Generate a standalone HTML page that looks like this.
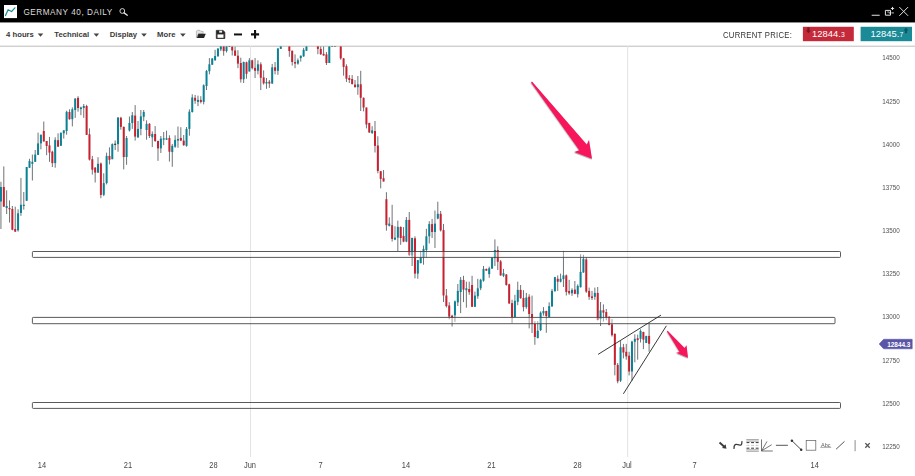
<!DOCTYPE html>
<html lang="en"><head><meta charset="utf-8"><title>Germany 40, Daily</title>
<style>
html,body{margin:0;padding:0;background:#fff;}
body{width:915px;height:476px;overflow:hidden;position:relative;font-family:"Liberation Sans",Arial,sans-serif;}
.hdr{position:absolute;left:0;top:0;width:915px;height:22px;}
.title{position:absolute;left:23.4px;top:7px;font-size:8.2px;line-height:12px;color:#dedede;letter-spacing:0.54px;white-space:nowrap;}
.tb{position:absolute;left:0;top:22.4px;width:915px;height:23.6px;}
.mi{position:absolute;top:7.8px;font-size:7.7px;line-height:10px;font-weight:bold;color:#3a3a3a;white-space:nowrap;}
.cp{position:absolute;left:722.7px;top:8.1px;font-size:8.5px;line-height:10px;color:#333;letter-spacing:0.3px;transform:scaleX(0.905);transform-origin:0 0;white-space:nowrap;}
.pb{position:absolute;top:4.4px;height:14.4px;color:#fff;font-size:9.4px;line-height:14.6px;white-space:nowrap;letter-spacing:0.05px;}
.pb small{font-size:6.8px;}
.sell{left:802.9px;width:50.9px;}
.buy{left:860.6px;width:51.4px;}
.pb span{position:absolute;top:0;}
svg.ov{position:absolute;left:0;top:0;}
svg.chart{position:absolute;left:0;top:46px;}
</style></head><body>
<svg class="ov" width="915" height="47" viewBox="0 0 915 47">
<rect x="0" y="0" width="915" height="22.45" fill="#000"/>
<rect x="0" y="45.7" width="915" height="1" fill="#bcbcbc"/>
<rect x="802.9" y="26.8" width="50.9" height="14.4" fill="#c42a3a"/><rect x="860.6" y="26.8" width="51.4" height="14.4" fill="#1a8a96"/>
<rect x="4" y="5" width="13" height="13.1" fill="#fff"/>
<g fill="#444"><path d="M37.7 33.6H43.3L40.5 36.7Z"/><path d="M93.6 33.6H99.2L96.4 36.7Z"/><path d="M141.2 33.6H146.8L144.0 36.7Z"/><path d="M180.1 33.6H185.7L182.9 36.7Z"/></g>
<!-- logo zigzag -->
<path d="M5.5 15.6L8.1 9.7L11.5 11.6L14.9 7.8" fill="none" stroke="#178a96" stroke-width="1.2" stroke-linejoin="round" stroke-linecap="round"/>
<!-- magnifier -->
<circle cx="122.3" cy="11" r="2.4" fill="none" stroke="#e8e8e8" stroke-width="0.9"/><path d="M124.1 12.9L127.3 15.2" stroke="#e8e8e8" stroke-width="1.3" stroke-linecap="round"/>
<!-- folder -->
<path d="M196.4 37.8V31L197.4 30.3H200L200.9 31.4H203.1V33.8H198.4L196.4 37.8Z" fill="#e4e4e4" stroke="#9a9a9a" stroke-width="0.6" stroke-linejoin="round"/>
<path d="M198.4 33.7H205.8L204 37.9H196.9Z" fill="#262626"/>
<!-- save -->
<path d="M216.3 30.4H222.9L224.8 32.1V38.5H216.3Z" fill="#262626" stroke="#262626" stroke-width="0.8" stroke-linejoin="round"/><rect x="217.5" y="34.4" width="6" height="3.4" fill="#fff"/><rect x="219.2" y="30.7" width="2.9" height="1.9" fill="#f4f4f4"/><rect x="217.4" y="30.7" width="1" height="2.4" fill="#fff" fill-opacity="0.0"/>
<!-- minus plus -->
<path d="M234 34.45H242" stroke="#111" stroke-width="2"/>
<path d="M251 34.35H259.1M255.05 30.1V38.5" stroke="#111" stroke-width="2.1"/>
<!-- window controls -->
<path d="M871.7 15.25H879.7" stroke="#e4e4e4" stroke-width="1"/>
<path d="M885.4 10.4H890.5V15.2H885.4Z" fill="none" stroke="#e4e4e4" stroke-width="1"/><path d="M887.2 12H889.3V13.7" fill="none" stroke="#d0d0d0" stroke-width="0.8"/><path d="M890.9 8.45H894.1M892.5 6.9V10" stroke="#eee" stroke-width="0.95"/><path d="M891.4 12.9H893.9" stroke="#ddd" stroke-width="0.9"/>
<path d="M899.35 7.1L908.05 15.8M908.05 7.1L899.35 15.8" stroke="#e2e2e2" stroke-width="1"/>
<!-- price arrows -->
<path d="M807.3 27.6H809.5V30.4H810.9L808.4 33.2L805.9 30.4H807.3Z" fill="#7d1522"/>
<path d="M904.9 33.2H907.1V30.4H908.5L906 27.6L903.5 30.4H904.9Z" fill="#0d5a63"/>
</svg>
<div class="hdr"><div class="title">GERMANY 40, DAILY</div></div>
<div class="tb">
<div class="mi" style="left:6.1px">4 hours</div>
<div class="mi" style="left:54.3px">Technical</div>
<div class="mi" style="left:109.8px">Display</div>
<div class="mi" style="left:157.1px">More</div>
<div class="cp">CURRENT PRICE:</div>
<div class="pb sell"><span style="left:9.1px">12844.<small>3</small></span></div>
<div class="pb buy"><span style="left:9.8px">12845.<small>7</small></span></div>
</div>
<svg class="chart" width="915" height="430" viewBox="0 46 915 430">
<defs><clipPath id="cp"><rect x="0" y="46.6" width="915" height="430"/></clipPath>
<filter id="sh" x="-20%" y="-20%" width="150%" height="150%"><feDropShadow dx="-0.3" dy="0.8" stdDeviation="0.7" flood-color="#023" flood-opacity="0.45"/></filter></defs>
<g stroke="#e2e2e2" stroke-width="1"><line x1="250.55" y1="46" x2="250.55" y2="457"/><line x1="627.7" y1="46" x2="627.7" y2="457"/></g>
<g clip-path="url(#cp)">
<g stroke="#6e7377" stroke-width="1"><line x1="0.95" y1="181.8" x2="0.95" y2="229.0"/><line x1="3.81" y1="166.4" x2="3.81" y2="206.7"/><line x1="6.66" y1="190.3" x2="6.66" y2="214.0"/><line x1="9.52" y1="200.4" x2="9.52" y2="222.5"/><line x1="12.37" y1="206.0" x2="12.37" y2="230.3"/><line x1="15.23" y1="206.7" x2="15.23" y2="232.0"/><line x1="18.08" y1="209.3" x2="18.08" y2="231.6"/><line x1="20.94" y1="177.9" x2="20.94" y2="215.9"/><line x1="23.79" y1="192.0" x2="23.79" y2="209.7"/><line x1="26.65" y1="167.0" x2="26.65" y2="200.8"/><line x1="29.50" y1="158.8" x2="29.50" y2="168.0"/><line x1="32.36" y1="154.6" x2="32.36" y2="180.5"/><line x1="35.21" y1="150.0" x2="35.21" y2="162.0"/><line x1="38.07" y1="132.6" x2="38.07" y2="155.0"/><line x1="40.92" y1="134.7" x2="40.92" y2="149.3"/><line x1="43.78" y1="121.5" x2="43.78" y2="141.5"/><line x1="46.63" y1="141.0" x2="46.63" y2="155.2"/><line x1="49.49" y1="136.9" x2="49.49" y2="161.8"/><line x1="52.35" y1="150.7" x2="52.35" y2="167.0"/><line x1="55.20" y1="137.3" x2="55.20" y2="167.7"/><line x1="58.06" y1="133.3" x2="58.06" y2="146.7"/><line x1="60.91" y1="132.7" x2="60.91" y2="145.8"/><line x1="63.77" y1="130.3" x2="63.77" y2="138.6"/><line x1="66.62" y1="110.7" x2="66.62" y2="134.7"/><line x1="69.48" y1="109.3" x2="69.48" y2="119.8"/><line x1="72.33" y1="107.4" x2="72.33" y2="126.4"/><line x1="75.19" y1="98.2" x2="75.19" y2="117.9"/><line x1="78.04" y1="96.2" x2="78.04" y2="111.7"/><line x1="80.90" y1="106.7" x2="80.90" y2="115.2"/><line x1="83.75" y1="104.0" x2="83.75" y2="117.9"/><line x1="86.61" y1="104.8" x2="86.61" y2="134.9"/><line x1="89.46" y1="128.4" x2="89.46" y2="160.5"/><line x1="92.32" y1="155.9" x2="92.32" y2="174.6"/><line x1="95.17" y1="167.0" x2="95.17" y2="182.5"/><line x1="98.03" y1="157.2" x2="98.03" y2="173.0"/><line x1="100.89" y1="162.5" x2="100.89" y2="198.2"/><line x1="103.74" y1="173.3" x2="103.74" y2="196.2"/><line x1="106.60" y1="152.6" x2="106.60" y2="184.4"/><line x1="109.45" y1="147.4" x2="109.45" y2="164.4"/><line x1="112.31" y1="143.4" x2="112.31" y2="159.2"/><line x1="115.16" y1="140.4" x2="115.16" y2="150.0"/><line x1="118.02" y1="117.0" x2="118.02" y2="151.7"/><line x1="120.87" y1="116.8" x2="120.87" y2="129.7"/><line x1="123.73" y1="126.5" x2="123.73" y2="169.4"/><line x1="126.58" y1="136.0" x2="126.58" y2="164.8"/><line x1="129.44" y1="116.5" x2="129.44" y2="131.5"/><line x1="132.29" y1="112.0" x2="132.29" y2="128.9"/><line x1="135.15" y1="105.1" x2="135.15" y2="140.6"/><line x1="138.00" y1="121.0" x2="138.00" y2="138.0"/><line x1="140.86" y1="110.0" x2="140.86" y2="135.3"/><line x1="143.72" y1="110.0" x2="143.72" y2="121.2"/><line x1="146.57" y1="120.3" x2="146.57" y2="139.7"/><line x1="149.43" y1="123.1" x2="149.43" y2="138.0"/><line x1="152.28" y1="131.4" x2="152.28" y2="147.1"/><line x1="155.14" y1="126.1" x2="155.14" y2="141.9"/><line x1="157.99" y1="140.6" x2="157.99" y2="160.9"/><line x1="160.85" y1="136.0" x2="160.85" y2="153.0"/><line x1="163.70" y1="132.0" x2="163.70" y2="145.2"/><line x1="166.56" y1="130.7" x2="166.56" y2="139.9"/><line x1="169.41" y1="135.3" x2="169.41" y2="161.6"/><line x1="172.27" y1="143.9" x2="172.27" y2="166.8"/><line x1="175.12" y1="135.3" x2="175.12" y2="147.8"/><line x1="177.98" y1="126.5" x2="177.98" y2="147.8"/><line x1="180.83" y1="127.2" x2="180.83" y2="141.2"/><line x1="183.69" y1="135.0" x2="183.69" y2="145.8"/><line x1="186.54" y1="127.0" x2="186.54" y2="146.7"/><line x1="189.40" y1="109.3" x2="189.40" y2="135.7"/><line x1="192.26" y1="94.3" x2="192.26" y2="112.6"/><line x1="195.11" y1="94.9" x2="195.11" y2="103.8"/><line x1="197.97" y1="95.6" x2="197.97" y2="106.1"/><line x1="200.82" y1="96.2" x2="200.82" y2="103.4"/><line x1="203.68" y1="84.3" x2="203.68" y2="104.4"/><line x1="206.53" y1="69.9" x2="206.53" y2="90.0"/><line x1="209.39" y1="58.1" x2="209.39" y2="74.4"/><line x1="212.24" y1="58.1" x2="212.24" y2="65.0"/><line x1="215.10" y1="49.8" x2="215.10" y2="60.7"/><line x1="217.95" y1="48.5" x2="217.95" y2="56.4"/><line x1="220.81" y1="44.0" x2="220.81" y2="51.1"/><line x1="223.66" y1="44.0" x2="223.66" y2="55.7"/><line x1="226.52" y1="44.0" x2="226.52" y2="52.5"/><line x1="229.37" y1="44.0" x2="229.37" y2="46.9"/><line x1="232.23" y1="44.0" x2="232.23" y2="55.5"/><line x1="235.08" y1="46.5" x2="235.08" y2="56.0"/><line x1="237.94" y1="50.2" x2="237.94" y2="68.2"/><line x1="240.80" y1="57.7" x2="240.80" y2="82.6"/><line x1="243.65" y1="61.6" x2="243.65" y2="83.0"/><line x1="246.51" y1="61.6" x2="246.51" y2="78.7"/><line x1="249.36" y1="58.1" x2="249.36" y2="71.5"/><line x1="252.22" y1="59.7" x2="252.22" y2="69.5"/><line x1="255.07" y1="58.1" x2="255.07" y2="78.0"/><line x1="257.93" y1="60.3" x2="257.93" y2="74.4"/><line x1="260.78" y1="62.3" x2="260.78" y2="90.1"/><line x1="263.64" y1="70.4" x2="263.64" y2="84.6"/><line x1="266.49" y1="78.0" x2="266.49" y2="88.8"/><line x1="269.35" y1="80.0" x2="269.35" y2="87.9"/><line x1="272.20" y1="63.9" x2="272.20" y2="83.9"/><line x1="275.06" y1="62.0" x2="275.06" y2="74.4"/><line x1="277.91" y1="48.1" x2="277.91" y2="74.8"/><line x1="280.77" y1="40.0" x2="280.77" y2="48.9"/><line x1="289.34" y1="40.0" x2="289.34" y2="56.8"/><line x1="292.19" y1="50.5" x2="292.19" y2="65.6"/><line x1="295.05" y1="54.4" x2="295.05" y2="68.2"/><line x1="297.90" y1="58.4" x2="297.90" y2="64.7"/><line x1="300.76" y1="55.5" x2="300.76" y2="61.6"/><line x1="303.61" y1="47.9" x2="303.61" y2="56.8"/><line x1="306.47" y1="40.0" x2="306.47" y2="50.8"/><line x1="317.89" y1="40.0" x2="317.89" y2="54.2"/><line x1="320.74" y1="44.0" x2="320.74" y2="55.0"/><line x1="323.60" y1="44.0" x2="323.60" y2="55.7"/><line x1="326.45" y1="52.0" x2="326.45" y2="65.0"/><line x1="329.31" y1="40.0" x2="329.31" y2="63.0"/><line x1="332.16" y1="40.0" x2="332.16" y2="46.7"/><line x1="335.02" y1="40.0" x2="335.02" y2="46.7"/><line x1="340.73" y1="40.0" x2="340.73" y2="59.7"/><line x1="343.59" y1="58.0" x2="343.59" y2="75.7"/><line x1="346.44" y1="64.3" x2="346.44" y2="82.0"/><line x1="349.30" y1="75.1" x2="349.30" y2="83.0"/><line x1="352.15" y1="75.1" x2="352.15" y2="84.6"/><line x1="355.01" y1="80.0" x2="355.01" y2="87.5"/><line x1="357.86" y1="76.0" x2="357.86" y2="94.8"/><line x1="360.72" y1="70.8" x2="360.72" y2="111.0"/><line x1="363.57" y1="97.5" x2="363.57" y2="111.4"/><line x1="366.43" y1="107.5" x2="366.43" y2="128.4"/><line x1="369.28" y1="122.9" x2="369.28" y2="133.0"/><line x1="372.14" y1="126.2" x2="372.14" y2="134.0"/><line x1="374.99" y1="121.0" x2="374.99" y2="152.5"/><line x1="377.85" y1="136.3" x2="377.85" y2="173.3"/><line x1="380.70" y1="171.0" x2="380.70" y2="188.4"/><line x1="383.56" y1="170.0" x2="383.56" y2="181.5"/><line x1="386.42" y1="192.2" x2="386.42" y2="230.7"/><line x1="389.27" y1="217.3" x2="389.27" y2="226.5"/><line x1="392.13" y1="204.8" x2="392.13" y2="241.6"/><line x1="394.98" y1="226.2" x2="394.98" y2="240.2"/><line x1="397.84" y1="220.6" x2="397.84" y2="251.4"/><line x1="400.69" y1="226.5" x2="400.69" y2="244.8"/><line x1="403.55" y1="227.1" x2="403.55" y2="242.2"/><line x1="406.40" y1="217.0" x2="406.40" y2="242.2"/><line x1="409.26" y1="212.0" x2="409.26" y2="256.0"/><line x1="412.11" y1="237.6" x2="412.11" y2="266.0"/><line x1="414.97" y1="236.3" x2="414.97" y2="278.4"/><line x1="417.82" y1="260.0" x2="417.82" y2="278.8"/><line x1="420.68" y1="250.8" x2="420.68" y2="263.4"/><line x1="423.53" y1="245.6" x2="423.53" y2="264.7"/><line x1="426.39" y1="228.8" x2="426.39" y2="257.5"/><line x1="429.25" y1="221.2" x2="429.25" y2="243.5"/><line x1="432.10" y1="218.9" x2="432.10" y2="238.0"/><line x1="434.96" y1="210.5" x2="434.96" y2="248.0"/><line x1="437.81" y1="201.7" x2="437.81" y2="219.3"/><line x1="440.67" y1="211.0" x2="440.67" y2="231.5"/><line x1="443.52" y1="223.9" x2="443.52" y2="302.1"/><line x1="446.38" y1="289.0" x2="446.38" y2="307.5"/><line x1="449.23" y1="302.2" x2="449.23" y2="319.3"/><line x1="452.09" y1="314.7" x2="452.09" y2="326.5"/><line x1="454.94" y1="300.5" x2="454.94" y2="321.9"/><line x1="457.80" y1="284.0" x2="457.80" y2="306.0"/><line x1="460.65" y1="277.0" x2="460.65" y2="313.1"/><line x1="463.51" y1="275.8" x2="463.51" y2="302.1"/><line x1="466.36" y1="281.7" x2="466.36" y2="307.7"/><line x1="469.22" y1="281.7" x2="469.22" y2="294.8"/><line x1="472.07" y1="275.8" x2="472.07" y2="306.8"/><line x1="474.93" y1="291.6" x2="474.93" y2="306.8"/><line x1="477.79" y1="278.8" x2="477.79" y2="298.8"/><line x1="480.64" y1="278.8" x2="480.64" y2="290.2"/><line x1="483.50" y1="266.0" x2="483.50" y2="281.7"/><line x1="486.35" y1="268.6" x2="486.35" y2="271.0"/><line x1="489.21" y1="266.6" x2="489.21" y2="277.8"/><line x1="492.06" y1="257.5" x2="492.06" y2="268.9"/><line x1="494.92" y1="239.4" x2="494.92" y2="266.0"/><line x1="497.77" y1="246.3" x2="497.77" y2="270.0"/><line x1="500.63" y1="260.0" x2="500.63" y2="275.8"/><line x1="503.48" y1="268.9" x2="503.48" y2="277.1"/><line x1="506.34" y1="274.0" x2="506.34" y2="285.7"/><line x1="509.19" y1="283.7" x2="509.19" y2="304.0"/><line x1="512.05" y1="299.7" x2="512.05" y2="323.2"/><line x1="514.90" y1="294.8" x2="514.90" y2="317.3"/><line x1="517.76" y1="281.7" x2="517.76" y2="305.2"/><line x1="520.61" y1="285.0" x2="520.61" y2="298.8"/><line x1="523.47" y1="290.2" x2="523.47" y2="311.4"/><line x1="526.33" y1="292.9" x2="526.33" y2="308.8"/><line x1="529.18" y1="294.2" x2="529.18" y2="328.4"/><line x1="532.04" y1="295.6" x2="532.04" y2="333.0"/><line x1="534.89" y1="321.2" x2="534.89" y2="344.8"/><line x1="537.75" y1="321.2" x2="537.75" y2="338.5"/><line x1="540.60" y1="311.4" x2="540.60" y2="331.1"/><line x1="543.46" y1="307.1" x2="543.46" y2="315.7"/><line x1="546.31" y1="310.7" x2="546.31" y2="332.8"/><line x1="549.17" y1="302.3" x2="549.17" y2="317.3"/><line x1="552.02" y1="288.9" x2="552.02" y2="306.5"/><line x1="554.88" y1="276.9" x2="554.88" y2="291.6"/><line x1="557.73" y1="275.4" x2="557.73" y2="290.9"/><line x1="560.59" y1="273.6" x2="560.59" y2="282.4"/><line x1="563.44" y1="250.9" x2="563.44" y2="287.0"/><line x1="566.30" y1="274.5" x2="566.30" y2="295.5"/><line x1="569.15" y1="279.8" x2="569.15" y2="294.8"/><line x1="572.01" y1="288.3" x2="572.01" y2="295.9"/><line x1="574.87" y1="281.0" x2="574.87" y2="294.2"/><line x1="577.72" y1="284.3" x2="577.72" y2="297.5"/><line x1="580.58" y1="254.2" x2="580.58" y2="287.6"/><line x1="583.43" y1="254.8" x2="583.43" y2="272.8"/><line x1="586.29" y1="257.0" x2="586.29" y2="292.9"/><line x1="589.14" y1="287.6" x2="589.14" y2="299.8"/><line x1="592.00" y1="290.9" x2="592.00" y2="300.0"/><line x1="594.85" y1="287.6" x2="594.85" y2="299.8"/><line x1="597.71" y1="287.0" x2="597.71" y2="320.4"/><line x1="600.56" y1="302.0" x2="600.56" y2="326.0"/><line x1="603.42" y1="304.4" x2="603.42" y2="321.5"/><line x1="606.27" y1="309.0" x2="606.27" y2="320.2"/><line x1="609.13" y1="316.2" x2="609.13" y2="325.4"/><line x1="611.98" y1="319.1" x2="611.98" y2="336.6"/><line x1="614.84" y1="333.3" x2="614.84" y2="375.4"/><line x1="617.69" y1="363.0" x2="617.69" y2="383.3"/><line x1="620.55" y1="341.1" x2="620.55" y2="382.0"/><line x1="623.41" y1="343.9" x2="623.41" y2="358.4"/><line x1="626.26" y1="343.9" x2="626.26" y2="359.7"/><line x1="629.12" y1="351.8" x2="629.12" y2="375.4"/><line x1="631.97" y1="340.7" x2="631.97" y2="380.7"/><line x1="634.83" y1="334.3" x2="634.83" y2="362.3"/><line x1="637.68" y1="334.6" x2="637.68" y2="359.7"/><line x1="640.54" y1="329.3" x2="640.54" y2="342.5"/><line x1="643.39" y1="331.7" x2="643.39" y2="349.1"/><line x1="646.25" y1="335.9" x2="646.25" y2="343.1"/><line x1="649.10" y1="323.4" x2="649.10" y2="351.7"/></g>
<g><rect x="-0.05" y="187.0" width="2" height="14.5" fill="#0a8296"/><rect x="2.81" y="187.0" width="2" height="19.7" fill="#c8202f"/><rect x="5.66" y="206.0" width="2" height="2.0" fill="#0a8296"/><rect x="8.52" y="208.0" width="2" height="1.3" fill="#c8202f"/><rect x="11.37" y="209.0" width="2" height="20.7" fill="#c8202f"/><rect x="14.23" y="229.0" width="2" height="2.6" fill="#c8202f"/><rect x="17.08" y="213.3" width="2" height="17.0" fill="#0a8296"/><rect x="19.94" y="204.8" width="2" height="8.2" fill="#0a8296"/><rect x="22.79" y="204.8" width="2" height="1.2" fill="#0a8296"/><rect x="25.65" y="167.0" width="2" height="33.8" fill="#0a8296"/><rect x="28.50" y="161.1" width="2" height="6.6" fill="#0a8296"/><rect x="31.36" y="161.8" width="2" height="2.0" fill="#0a8296"/><rect x="34.21" y="154.6" width="2" height="7.2" fill="#0a8296"/><rect x="37.07" y="143.4" width="2" height="11.5" fill="#0a8296"/><rect x="39.92" y="134.7" width="2" height="8.7" fill="#0a8296"/><rect x="42.78" y="131.0" width="2" height="10.5" fill="#c8202f"/><rect x="45.63" y="141.0" width="2" height="5.0" fill="#c8202f"/><rect x="48.49" y="145.4" width="2" height="7.2" fill="#c8202f"/><rect x="51.35" y="151.7" width="2" height="11.4" fill="#c8202f"/><rect x="54.20" y="139.9" width="2" height="23.2" fill="#0a8296"/><rect x="57.06" y="140.2" width="2" height="6.5" fill="#c8202f"/><rect x="59.91" y="132.7" width="2" height="13.1" fill="#0a8296"/><rect x="62.77" y="130.3" width="2" height="3.0" fill="#0a8296"/><rect x="65.62" y="111.8" width="2" height="19.2" fill="#0a8296"/><rect x="68.48" y="112.0" width="2" height="7.2" fill="#c8202f"/><rect x="71.33" y="109.3" width="2" height="9.9" fill="#0a8296"/><rect x="74.19" y="98.6" width="2" height="11.4" fill="#0a8296"/><rect x="77.04" y="97.9" width="2" height="10.1" fill="#c8202f"/><rect x="79.90" y="107.4" width="2" height="1.7" fill="#0a8296"/><rect x="82.75" y="106.0" width="2" height="2.0" fill="#0a8296"/><rect x="85.61" y="106.0" width="2" height="28.9" fill="#c8202f"/><rect x="88.46" y="134.3" width="2" height="25.3" fill="#c8202f"/><rect x="91.32" y="159.2" width="2" height="10.5" fill="#c8202f"/><rect x="94.17" y="167.7" width="2" height="4.9" fill="#c8202f"/><rect x="97.03" y="163.8" width="2" height="8.8" fill="#0a8296"/><rect x="99.89" y="163.5" width="2" height="31.4" fill="#c8202f"/><rect x="102.74" y="183.1" width="2" height="11.8" fill="#0a8296"/><rect x="105.60" y="155.9" width="2" height="27.2" fill="#0a8296"/><rect x="108.45" y="155.9" width="2" height="3.9" fill="#c8202f"/><rect x="111.31" y="144.1" width="2" height="15.1" fill="#0a8296"/><rect x="114.16" y="143.7" width="2" height="1.2" fill="#333"/><rect x="117.02" y="117.6" width="2" height="26.5" fill="#0a8296"/><rect x="119.87" y="117.8" width="2" height="9.1" fill="#c8202f"/><rect x="122.73" y="126.9" width="2" height="30.1" fill="#c8202f"/><rect x="125.58" y="138.0" width="2" height="19.0" fill="#0a8296"/><rect x="128.44" y="123.0" width="2" height="7.5" fill="#0a8296"/><rect x="131.29" y="115.2" width="2" height="7.8" fill="#0a8296"/><rect x="134.15" y="115.6" width="2" height="21.0" fill="#c8202f"/><rect x="137.00" y="128.9" width="2" height="8.4" fill="#0a8296"/><rect x="139.86" y="116.4" width="2" height="12.5" fill="#0a8296"/><rect x="142.72" y="112.0" width="2" height="4.8" fill="#0a8296"/><rect x="145.57" y="123.8" width="2" height="6.2" fill="#0a8296"/><rect x="148.43" y="123.8" width="2" height="12.2" fill="#c8202f"/><rect x="151.28" y="134.0" width="2" height="3.3" fill="#0a8296"/><rect x="154.14" y="134.0" width="2" height="7.0" fill="#c8202f"/><rect x="156.99" y="141.0" width="2" height="7.4" fill="#c8202f"/><rect x="159.85" y="138.6" width="2" height="9.8" fill="#0a8296"/><rect x="162.70" y="138.3" width="2" height="1.4" fill="#0a8296"/><rect x="165.56" y="138.3" width="2" height="1.4" fill="#0a8296"/><rect x="168.41" y="138.0" width="2" height="13.7" fill="#c8202f"/><rect x="171.27" y="145.8" width="2" height="6.3" fill="#0a8296"/><rect x="174.12" y="139.9" width="2" height="6.8" fill="#0a8296"/><rect x="176.98" y="139.0" width="2" height="1.6" fill="#0a8296"/><rect x="179.83" y="138.0" width="2" height="2.6" fill="#c8202f"/><rect x="182.69" y="140.6" width="2" height="4.6" fill="#c8202f"/><rect x="185.54" y="128.9" width="2" height="16.9" fill="#0a8296"/><rect x="188.40" y="111.7" width="2" height="17.2" fill="#0a8296"/><rect x="191.26" y="97.5" width="2" height="14.5" fill="#0a8296"/><rect x="194.11" y="97.8" width="2" height="3.0" fill="#c8202f"/><rect x="196.97" y="99.9" width="2" height="2.0" fill="#0a8296"/><rect x="199.82" y="99.9" width="2" height="2.0" fill="#c8202f"/><rect x="202.68" y="85.3" width="2" height="16.6" fill="#0a8296"/><rect x="205.53" y="71.0" width="2" height="15.0" fill="#0a8296"/><rect x="208.39" y="64.3" width="2" height="6.9" fill="#0a8296"/><rect x="211.24" y="58.4" width="2" height="6.3" fill="#0a8296"/><rect x="214.10" y="56.0" width="2" height="4.3" fill="#0a8296"/><rect x="216.95" y="48.5" width="2" height="7.9" fill="#0a8296"/><rect x="219.81" y="44.0" width="2" height="5.4" fill="#0a8296"/><rect x="222.66" y="44.0" width="2" height="7.1" fill="#c8202f"/><rect x="225.52" y="44.0" width="2" height="7.1" fill="#0a8296"/><rect x="228.37" y="44.0" width="2" height="2.9" fill="#333"/><rect x="231.23" y="46.5" width="2" height="4.0" fill="#c8202f"/><rect x="234.08" y="50.5" width="2" height="5.2" fill="#c8202f"/><rect x="236.94" y="55.7" width="2" height="7.9" fill="#c8202f"/><rect x="239.80" y="63.0" width="2" height="16.3" fill="#c8202f"/><rect x="242.65" y="62.0" width="2" height="17.3" fill="#0a8296"/><rect x="245.51" y="62.3" width="2" height="11.5" fill="#c8202f"/><rect x="248.36" y="60.3" width="2" height="11.2" fill="#0a8296"/><rect x="251.22" y="60.3" width="2" height="7.9" fill="#c8202f"/><rect x="254.07" y="67.8" width="2" height="3.0" fill="#c8202f"/><rect x="256.93" y="64.3" width="2" height="6.5" fill="#0a8296"/><rect x="259.78" y="64.3" width="2" height="13.5" fill="#c8202f"/><rect x="262.64" y="77.4" width="2" height="5.9" fill="#c8202f"/><rect x="265.49" y="82.0" width="2" height="1.5" fill="#0a8296"/><rect x="268.35" y="81.7" width="2" height="1.8" fill="#c8202f"/><rect x="271.20" y="67.3" width="2" height="16.2" fill="#0a8296"/><rect x="274.06" y="67.3" width="2" height="3.5" fill="#c8202f"/><rect x="276.91" y="48.5" width="2" height="22.3" fill="#0a8296"/><rect x="279.77" y="40.0" width="2" height="8.9" fill="#0a8296"/><rect x="288.34" y="40.0" width="2" height="11.1" fill="#c8202f"/><rect x="291.19" y="50.8" width="2" height="11.2" fill="#c8202f"/><rect x="294.05" y="62.0" width="2" height="1.6" fill="#c8202f"/><rect x="296.90" y="60.3" width="2" height="3.3" fill="#0a8296"/><rect x="299.76" y="55.7" width="2" height="2.4" fill="#0a8296"/><rect x="302.61" y="49.8" width="2" height="6.6" fill="#0a8296"/><rect x="305.47" y="40.0" width="2" height="10.8" fill="#0a8296"/><rect x="316.89" y="40.0" width="2" height="8.9" fill="#c8202f"/><rect x="319.74" y="48.9" width="2" height="5.3" fill="#c8202f"/><rect x="322.60" y="53.8" width="2" height="1.7" fill="#c8202f"/><rect x="325.45" y="54.4" width="2" height="8.6" fill="#c8202f"/><rect x="328.31" y="40.0" width="2" height="23.0" fill="#0a8296"/><rect x="331.16" y="40.0" width="2" height="6.7" fill="#333"/><rect x="334.02" y="40.0" width="2" height="6.7" fill="#333"/><rect x="339.73" y="40.0" width="2" height="18.4" fill="#c8202f"/><rect x="342.59" y="58.4" width="2" height="8.5" fill="#c8202f"/><rect x="345.44" y="66.2" width="2" height="12.5" fill="#c8202f"/><rect x="348.30" y="78.0" width="2" height="2.0" fill="#c8202f"/><rect x="351.15" y="79.0" width="2" height="5.0" fill="#c8202f"/><rect x="354.01" y="84.6" width="2" height="2.6" fill="#c8202f"/><rect x="356.86" y="84.3" width="2" height="2.9" fill="#0a8296"/><rect x="359.72" y="84.3" width="2" height="13.5" fill="#c8202f"/><rect x="362.57" y="97.8" width="2" height="9.7" fill="#c8202f"/><rect x="365.43" y="107.5" width="2" height="17.0" fill="#c8202f"/><rect x="368.28" y="122.9" width="2" height="9.5" fill="#c8202f"/><rect x="371.14" y="130.4" width="2" height="2.6" fill="#0a8296"/><rect x="373.99" y="131.0" width="2" height="14.9" fill="#c8202f"/><rect x="376.85" y="145.5" width="2" height="25.5" fill="#c8202f"/><rect x="379.70" y="171.2" width="2" height="7.7" fill="#c8202f"/><rect x="382.56" y="178.2" width="2" height="3.3" fill="#c8202f"/><rect x="385.42" y="199.2" width="2" height="26.0" fill="#c8202f"/><rect x="388.27" y="223.6" width="2" height="2.2" fill="#0a8296"/><rect x="391.13" y="225.2" width="2" height="13.7" fill="#c8202f"/><rect x="393.98" y="237.6" width="2" height="2.0" fill="#0a8296"/><rect x="396.84" y="226.9" width="2" height="10.7" fill="#0a8296"/><rect x="399.69" y="226.9" width="2" height="11.1" fill="#c8202f"/><rect x="402.55" y="235.9" width="2" height="5.7" fill="#c8202f"/><rect x="405.40" y="219.9" width="2" height="21.7" fill="#0a8296"/><rect x="408.26" y="219.9" width="2" height="35.1" fill="#c8202f"/><rect x="411.11" y="238.0" width="2" height="17.5" fill="#0a8296"/><rect x="413.97" y="238.3" width="2" height="35.3" fill="#c8202f"/><rect x="416.82" y="260.1" width="2" height="13.5" fill="#0a8296"/><rect x="419.68" y="257.5" width="2" height="5.6" fill="#0a8296"/><rect x="422.53" y="248.9" width="2" height="8.6" fill="#0a8296"/><rect x="425.39" y="236.3" width="2" height="13.7" fill="#0a8296"/><rect x="428.25" y="224.1" width="2" height="12.2" fill="#0a8296"/><rect x="431.10" y="224.1" width="2" height="7.9" fill="#c8202f"/><rect x="433.96" y="223.6" width="2" height="8.4" fill="#0a8296"/><rect x="436.81" y="213.8" width="2" height="4.8" fill="#0a8296"/><rect x="439.67" y="213.8" width="2" height="16.6" fill="#c8202f"/><rect x="442.52" y="230.1" width="2" height="65.4" fill="#c8202f"/><rect x="445.38" y="295.5" width="2" height="10.6" fill="#c8202f"/><rect x="448.23" y="305.5" width="2" height="11.1" fill="#c8202f"/><rect x="451.09" y="315.7" width="2" height="1.9" fill="#c8202f"/><rect x="453.94" y="301.4" width="2" height="13.9" fill="#0a8296"/><rect x="456.80" y="290.9" width="2" height="11.5" fill="#0a8296"/><rect x="459.65" y="279.8" width="2" height="12.2" fill="#0a8296"/><rect x="462.51" y="280.0" width="2" height="9.6" fill="#c8202f"/><rect x="465.36" y="288.3" width="2" height="1.9" fill="#0a8296"/><rect x="468.22" y="289.0" width="2" height="3.2" fill="#c8202f"/><rect x="471.07" y="285.0" width="2" height="21.8" fill="#c8202f"/><rect x="473.93" y="295.6" width="2" height="11.2" fill="#0a8296"/><rect x="476.79" y="288.3" width="2" height="7.9" fill="#0a8296"/><rect x="479.64" y="279.8" width="2" height="8.5" fill="#0a8296"/><rect x="482.50" y="268.9" width="2" height="11.8" fill="#0a8296"/><rect x="485.35" y="268.9" width="2" height="1.7" fill="#c8202f"/><rect x="488.21" y="268.3" width="2" height="5.8" fill="#0a8296"/><rect x="491.06" y="257.7" width="2" height="10.9" fill="#0a8296"/><rect x="493.92" y="250.0" width="2" height="8.1" fill="#0a8296"/><rect x="496.77" y="250.0" width="2" height="11.8" fill="#c8202f"/><rect x="499.63" y="261.4" width="2" height="14.0" fill="#c8202f"/><rect x="502.48" y="273.2" width="2" height="2.6" fill="#0a8296"/><rect x="505.34" y="274.5" width="2" height="10.5" fill="#c8202f"/><rect x="508.19" y="284.3" width="2" height="19.1" fill="#c8202f"/><rect x="511.05" y="303.1" width="2" height="14.2" fill="#c8202f"/><rect x="513.90" y="300.8" width="2" height="16.5" fill="#0a8296"/><rect x="516.76" y="289.9" width="2" height="11.9" fill="#0a8296"/><rect x="519.61" y="289.9" width="2" height="8.3" fill="#c8202f"/><rect x="522.47" y="298.0" width="2" height="9.1" fill="#c8202f"/><rect x="525.33" y="297.5" width="2" height="9.6" fill="#0a8296"/><rect x="528.18" y="296.7" width="2" height="17.3" fill="#c8202f"/><rect x="531.04" y="314.0" width="2" height="9.9" fill="#c8202f"/><rect x="533.89" y="323.9" width="2" height="13.1" fill="#c8202f"/><rect x="536.75" y="330.7" width="2" height="7.3" fill="#0a8296"/><rect x="539.60" y="312.7" width="2" height="17.4" fill="#0a8296"/><rect x="542.46" y="311.0" width="2" height="2.4" fill="#0a8296"/><rect x="545.31" y="311.0" width="2" height="5.0" fill="#c8202f"/><rect x="548.17" y="306.1" width="2" height="10.9" fill="#0a8296"/><rect x="551.02" y="290.9" width="2" height="15.6" fill="#0a8296"/><rect x="553.88" y="277.1" width="2" height="14.1" fill="#0a8296"/><rect x="556.73" y="278.8" width="2" height="2.9" fill="#c8202f"/><rect x="559.59" y="278.8" width="2" height="2.9" fill="#0a8296"/><rect x="562.44" y="275.4" width="2" height="3.7" fill="#0a8296"/><rect x="565.30" y="275.4" width="2" height="16.6" fill="#c8202f"/><rect x="568.15" y="290.9" width="2" height="2.4" fill="#c8202f"/><rect x="571.01" y="289.9" width="2" height="3.4" fill="#0a8296"/><rect x="573.87" y="289.6" width="2" height="4.2" fill="#c8202f"/><rect x="576.72" y="285.9" width="2" height="8.3" fill="#0a8296"/><rect x="579.58" y="271.9" width="2" height="15.3" fill="#0a8296"/><rect x="582.43" y="258.8" width="2" height="13.7" fill="#0a8296"/><rect x="585.29" y="259.4" width="2" height="32.2" fill="#c8202f"/><rect x="588.14" y="290.9" width="2" height="5.9" fill="#c8202f"/><rect x="591.00" y="296.4" width="2" height="1.7" fill="#c8202f"/><rect x="593.85" y="292.9" width="2" height="3.9" fill="#0a8296"/><rect x="596.71" y="292.9" width="2" height="27.0" fill="#c8202f"/><rect x="599.56" y="310.3" width="2" height="8.8" fill="#0a8296"/><rect x="602.42" y="310.3" width="2" height="2.3" fill="#c8202f"/><rect x="605.27" y="312.0" width="2" height="5.3" fill="#c8202f"/><rect x="608.13" y="316.9" width="2" height="7.9" fill="#c8202f"/><rect x="610.98" y="324.4" width="2" height="10.8" fill="#c8202f"/><rect x="613.84" y="333.9" width="2" height="31.0" fill="#c8202f"/><rect x="616.69" y="364.9" width="2" height="16.4" fill="#c8202f"/><rect x="619.55" y="347.2" width="2" height="33.5" fill="#0a8296"/><rect x="622.41" y="347.2" width="2" height="5.3" fill="#c8202f"/><rect x="625.26" y="351.8" width="2" height="4.6" fill="#c8202f"/><rect x="628.12" y="355.7" width="2" height="15.8" fill="#c8202f"/><rect x="630.97" y="341.6" width="2" height="29.9" fill="#0a8296"/><rect x="633.83" y="338.8" width="2" height="3.0" fill="#0a8296"/><rect x="636.68" y="338.3" width="2" height="1.8" fill="#c8202f"/><rect x="639.54" y="330.9" width="2" height="7.9" fill="#0a8296"/><rect x="642.39" y="332.0" width="2" height="7.6" fill="#c8202f"/><rect x="645.25" y="335.9" width="2" height="7.0" fill="#0a8296"/><rect x="648.10" y="335.9" width="2" height="7.9" fill="#c8202f"/></g>
</g>
<g fill="#fff" fill-opacity="0.33" stroke="#3c3c3c" stroke-width="0.85">
<rect x="32.4" y="251.5" width="808.1" height="5.9" rx="0.8"/>
<rect x="32.4" y="317.4" width="802.6" height="6.3" rx="0.8"/>
<rect x="32.4" y="402.5" width="808.1" height="5.9" rx="0.8"/>
</g>
<g stroke="#222" stroke-width="0.9" fill="none">
<line x1="598.1" y1="354.4" x2="661" y2="315.1"/>
<line x1="623.4" y1="393.8" x2="666.4" y2="325.8"/>
</g>
<g fill="#f7145c" filter="url(#sh)">
<polygon points="531.0,82.4 579.3,150.3 574.3,152.0 592.0,158.7 589.0,140.0 586.8,144.4 532.0,81.6"/>
<polygon points="666.9,331.3 679.6,352.0 676.2,352.7 688.0,357.7 686.5,345.3 684.6,348.1 667.7,330.7"/>
</g>
<g font-family="'Liberation Sans',Arial,sans-serif" font-size="6.3" fill="#4e4e4e" opacity="0.99">
<text x="891" y="60.4" text-anchor="middle">14500</text><text x="891" y="103.6" text-anchor="middle">14250</text><text x="891" y="146.8" text-anchor="middle">14000</text><text x="891" y="190.0" text-anchor="middle">13750</text><text x="891" y="233.2" text-anchor="middle">13500</text><text x="891" y="276.4" text-anchor="middle">13250</text><text x="891" y="319.1" text-anchor="middle">13000</text><text x="891" y="362.8" text-anchor="middle">12750</text><text x="891" y="406.0" text-anchor="middle">12500</text><text x="891" y="449.2" text-anchor="middle">12250</text>
</g>
<g font-family="'Liberation Sans',Arial,sans-serif" font-size="8.3" fill="#444" opacity="0.99">
<text transform="translate(42,467.55) scale(0.9,1)" text-anchor="middle">14</text><text transform="translate(128,467.55) scale(0.9,1)" text-anchor="middle">21</text><text transform="translate(213.5,467.55) scale(0.9,1)" text-anchor="middle">28</text><text transform="translate(250,467.55) scale(0.9,1)" text-anchor="middle">Jun</text><text transform="translate(320.5,467.55) scale(0.9,1)" text-anchor="middle">7</text><text transform="translate(406,467.55) scale(0.9,1)" text-anchor="middle">14</text><text transform="translate(491.5,467.55) scale(0.9,1)" text-anchor="middle">21</text><text transform="translate(577.5,467.55) scale(0.9,1)" text-anchor="middle">28</text><text transform="translate(627,467.55) scale(0.9,1)" text-anchor="middle">Jul</text><text transform="translate(694.5,467.55) scale(0.9,1)" text-anchor="middle">7</text><text transform="translate(814.7,467.55) scale(0.9,1)" text-anchor="middle">14</text>
</g>
<g>
<polygon points="879.2,344 883.6,339.3 912.2,339.3 912.2,348.8 883.6,348.8" fill="#5a55a6" stroke="#5a55a6" stroke-width="0.6" stroke-linejoin="round"/>
<text x="898.8" y="346.8" text-anchor="middle" font-family="'Liberation Sans',Arial,sans-serif" font-size="6.4" font-weight="bold" fill="#fff">12844.3</text>
</g>
<g id="tools" stroke="#3c3c3c" fill="none" stroke-width="1">
<!-- arrow -->
<path d="M719.5 442.5L724.6 447" stroke-width="1.9"/><path d="M726.5 448.7L722 448.1L725.6 444.3Z" fill="#3c3c3c" stroke="none"/>
<!-- curve -->
<path d="M734 448.4C733.8 443 737.5 444.4 739.3 445S742 444.4 741.9 441.5" stroke-width="1.25" stroke-linecap="round"/>
<!-- table -->
<path d="M746.3 439.6H758.8M746.3 441.1H758.8M746.3 449.8H758.8M746.3 451.3H758.8" stroke="#666" stroke-width="0.6"/>
<path d="M746.5 442.6H758.8M746.5 448.2H758.8" stroke="#333" stroke-width="1" stroke-dasharray="2.9 1.7"/>
<path d="M746.5 445.4H758.8" stroke="#bbb" stroke-width="0.8" stroke-dasharray="2.9 1.7"/>
<!-- fan -->
<path d="M761.5 439.4V451H772.8M761.6 450.8L767 441.4M761.6 450.8L771.7 444.7" stroke-width="0.75" stroke="#4a4a4a"/>
<!-- hline -->
<path d="M775.9 445.3H787.9" stroke-width="0.9" stroke="#444"/>
<!-- segment -->
<path d="M791.9 440.7L801.2 449.7" stroke-width="0.9" stroke="#333"/><circle cx="791.9" cy="440.7" r="1.25" fill="#333" stroke="none"/><circle cx="801.2" cy="449.8" r="1.25" fill="#333" stroke="none"/>
<!-- square -->
<rect x="806.2" y="440.4" width="9.6" height="9.8" stroke-width="0.75" stroke="#666"/>
<!-- slash -->
<path d="M836.1 449.2L844.5 441.4" stroke-width="0.9" stroke="#444"/>
<!-- vbar -->
<path d="M855.1 440.1V451.2" stroke-width="0.85" stroke="#777"/>
<!-- x -->
<path d="M865.3 443.1L869.7 447.7M869.7 443.1L865.3 447.7" stroke-width="1.35" stroke="#555"/>
</g>
<text x="825.8" y="446.6" text-anchor="middle" font-family="'Liberation Sans',Arial,sans-serif" font-size="5.5" fill="#5a5a5a" opacity="0.99">Abc</text>
<path d="M820.2 447.4H831.2" stroke="#777" stroke-width="0.6"/>
</svg>

</body></html>
